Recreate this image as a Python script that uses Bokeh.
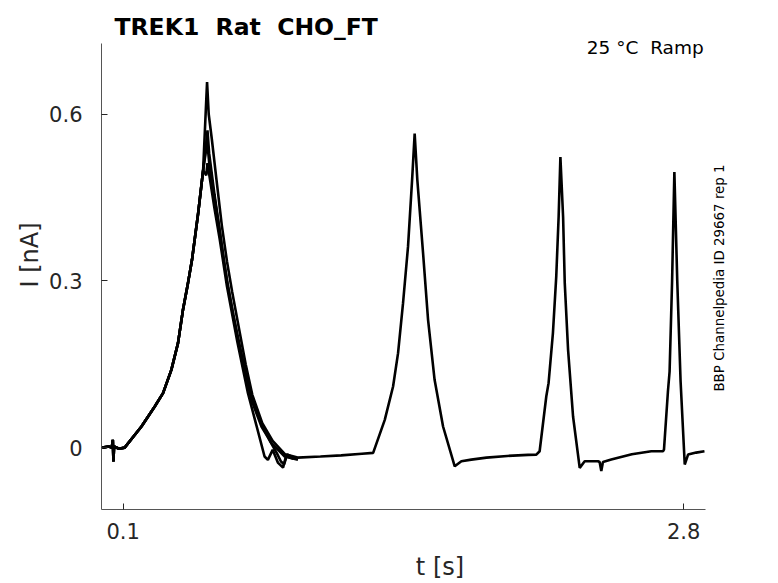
from bokeh.plotting import figure
from bokeh.models import Range1d, FixedTicker, Label
from bokeh.embed import file_html
from bokeh.resources import INLINE
import math

# ---- data (time in s, current in nA) ----
# first ramp, shared rising phase
rise_t = [0.0, 0.03, 0.045, 0.050, 0.053, 0.056, 0.08, 0.107, 0.188, 0.252, 0.292,
          0.332, 0.364, 0.388, 0.412, 0.4315, 0.461, 0.485]
rise_i = [0.0, 0.002, 0.0, 0.014, -0.025, 0.002, -0.002, 0.0, 0.038, 0.074, 0.098,
          0.140, 0.188, 0.248, 0.296, 0.338, 0.4216, 0.499]

# sweep A: full sweep (highest first peak)
sweepA_t = [0.497, 0.504, 0.512, 0.527, 0.550, 0.575, 0.600, 0.625, 0.660, 0.690,
            0.722, 0.770, 0.820, 0.880, 0.940, 1.05, 1.15, 1.25, 1.304, 1.360,
            1.400, 1.424, 1.448, 1.472, 1.4915, 1.504, 1.517, 1.5445, 1.5686,
            1.600, 1.6408, 1.697, 1.729, 1.777, 1.85, 1.95, 2.05, 2.09, 2.106,
            2.138, 2.149, 2.170, 2.186, 2.1975, 2.206, 2.219, 2.227, 2.243,
            2.267, 2.299, 2.323, 2.387, 2.395, 2.403, 2.411, 2.451, 2.55, 2.644,
            2.70, 2.705, 2.724, 2.732, 2.744, 2.755, 2.769, 2.785, 2.805, 2.821,
            2.86, 2.90]
sweepA_i = [0.600, 0.658, 0.600, 0.555, 0.480, 0.400, 0.335, 0.280, 0.210, 0.150,
            0.095, 0.044, 0.012, -0.012, -0.018, -0.016, -0.014, -0.011, -0.0095,
            0.050, 0.110, 0.170, 0.260, 0.3616, 0.481, 0.565, 0.481, 0.350,
            0.230, 0.122, 0.038, -0.0336, -0.0246, -0.0216, -0.018, -0.015,
            -0.013, -0.0126, -0.0066, 0.092, 0.116, 0.206, 0.3077, 0.4155,
            0.523, 0.4155, 0.296, 0.176, 0.056, -0.0365, -0.0246, -0.0246,
            -0.026, -0.042, -0.026, -0.0216, -0.012, -0.0066, -0.0066, -0.0036,
            0.101, 0.137, 0.299, 0.496, 0.299, 0.119, -0.0305, -0.0126, -0.009,
            -0.0066]

# sweep B: first ramp, middle peak
sweepB_t = [0.497, 0.504, 0.515, 0.540, 0.565, 0.585, 0.605, 0.630, 0.655, 0.685,
            0.7175, 0.766, 0.814, 0.878, 0.942]
sweepB_i = [0.530, 0.553, 0.510, 0.450, 0.390, 0.335, 0.290, 0.240, 0.195, 0.140,
            0.086, 0.038, 0.008, -0.016, -0.022]

# sweep C: first ramp, lowest peak, early drop
sweepC_t = [0.500, 0.506, 0.515, 0.540, 0.565, 0.600, 0.650, 0.701, 0.781, 0.797,
            0.820, 0.845, 0.870, 0.885, 0.920]
sweepC_i = [0.490, 0.512, 0.490, 0.430, 0.375, 0.290, 0.190, 0.098, -0.016,
            -0.022, -0.004, -0.027, -0.036, -0.015, -0.020]

# sweep D: first ramp, peak 0.57
sweepD_t = [0.498, 0.506, 0.514, 0.540, 0.565, 0.600, 0.650, 0.690, 0.720, 0.770,
            0.810, 0.840, 0.860, 0.875, 0.890, 0.930]
sweepD_i = [0.540, 0.571, 0.530, 0.455, 0.390, 0.300, 0.198, 0.135, 0.090, 0.040,
            0.010, -0.010, -0.025, -0.030, -0.012, -0.020]

x_ticks = [0.1, 2.8]
y_ticks = [0, 0.3, 0.6]
x_axis_span = (-0.0045, 2.9045)
y_axis_span = (-0.1114, 0.7275)

TITLE = "TREK1 \u00a0Rat \u00a0CHO_FT"
CONDITION = "25 °C \u00a0Ramp"
SOURCE = "BBP Channelpedia ID 29667 rep 1"

TXT = "#262626"
FONT = "DejaVu Sans"

# frame extends over the whole canvas to the top and right so that the
# annotation texts are not clipped; axis lines are bounded to the axes box
p = figure(width=778, height=583, output_backend="svg", toolbar_location=None,
           x_range=Range1d(-0.0045, 3.2566), y_range=Range1d(-0.1114, 0.8047),
           min_border_left=101, min_border_right=0, min_border_top=0,
           min_border_bottom=73)
p.outline_line_color = None
p.xgrid.visible = False
p.ygrid.visible = False
p.background_fill_color = "white"

for ts, iv in [(sweepB_t, sweepB_i), (sweepC_t, sweepC_i), (sweepD_t, sweepD_i),
               (sweepA_t, sweepA_i)]:
    p.line(rise_t + ts, rise_i + iv, line_color="black", line_width=2.6)

for ax, ticks, span in [(p.xaxis, x_ticks, x_axis_span), (p.yaxis, y_ticks, y_axis_span)]:
    ax.ticker = FixedTicker(ticks=ticks)
    ax.bounds = span
    ax.major_label_overrides = {t: str(t) for t in ticks}
    ax.major_tick_in = 6
    ax.major_tick_out = 0
    ax.minor_tick_line_color = None
    ax.major_tick_line_color = TXT
    ax.axis_line_color = "#555555"
    ax.major_label_text_font = FONT
    ax.major_label_text_font_size = "21px"
    ax.major_label_text_color = TXT
    ax.axis_label_text_font = FONT
    ax.axis_label_text_font_size = "24px"
    ax.axis_label_text_font_style = "normal"
    ax.axis_label_text_color = TXT

p.xaxis.major_label_standoff = 13
p.yaxis.major_label_standoff = 19
p.yaxis.axis_label = "I [nA]"
p.yaxis.axis_label_standoff = 2
p.xaxis.axis_label = "t [s]"
p.xaxis.axis_label_standoff = 11

p.add_layout(Label(x=0.0581, y=0.7568, text=TITLE,
                   text_font=FONT, text_font_size="23.5px", text_font_style="bold",
                   text_color="black", text_baseline="alphabetic", text_align="left"))
p.add_layout(Label(x=2.8963, y=0.7198, text=CONDITION,
                   text_font=FONT, text_font_size="18.5px",
                   text_color="black", text_baseline="alphabetic", text_align="right"))
p.add_layout(Label(x=2.9724, y=0.3053, text=SOURCE,
                   angle=math.pi / 2, text_font=FONT, text_font_size="13.4px",
                   text_color="black", text_baseline="middle", text_align="center"))

open("out.html", "w").write(file_html(p, INLINE))
